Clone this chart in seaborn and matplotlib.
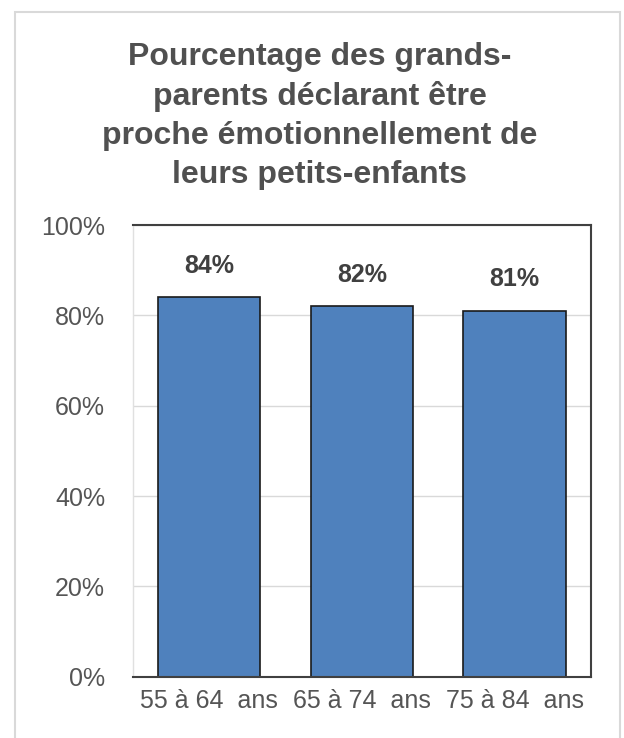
import pandas as pd
import matplotlib.pyplot as plt
import seaborn as sns
from matplotlib.patches import Rectangle

categories = ["55 à 64  ans", "65 à 74  ans", "75 à 84  ans"]
values = [84, 82, 81]
labels = ["84%", "82%", "81%"]
y_ticks = [0, 20, 40, 60, 80, 100]

df = pd.DataFrame({"age": categories, "pct": values})

sns.set_theme(style="white")
plt.rcParams["font.family"] = ["Liberation Sans", "DejaVu Sans"]

fig = plt.figure(figsize=(6.24, 7.38), dpi=100)
ax = fig.add_axes([0.213, 0.083, 0.734, 0.612])

sns.barplot(data=df, x="age", y="pct", color="#4F81BD", saturation=1,
            width=0.67, edgecolor="#1a1a1a", linewidth=1.2, ax=ax)

# valeurs au-dessus des barres
for i, (v, lab) in enumerate(zip(values, labels)):
    ax.text(i, v + 4.3, lab, ha="center", va="bottom",
            fontsize=18, fontweight="bold", color="#404040")

ax.set_ylim(0, 100)
ax.set_xlim(-0.5, 2.5)
ax.set_yticks(y_ticks)
ax.set_yticklabels([f"{t}%" for t in y_ticks], fontsize=18, color="#555555")
ax.tick_params(axis="x", labelsize=18, labelcolor="#555555", pad=9, length=0)
ax.tick_params(axis="y", pad=20, length=0)
ax.set_xlabel("")
ax.set_ylabel("")
ax.yaxis.grid(True, color="#d9d9d9", linewidth=1)
ax.set_axisbelow(True)

for side in ["top", "right", "bottom"]:
    ax.spines[side].set_color("#404040")
    ax.spines[side].set_linewidth(1.5)
ax.spines["left"].set_color("#e0e0e0")
ax.spines["left"].set_linewidth(1)

fig.suptitle("Pourcentage des grands-\nparents déclarant être\nproche émotionnellement de\nleurs petits-enfants",
             x=0.512, y=0.943, fontsize=23, fontweight="bold", color="#505050",
             linespacing=1.38, va="top")

# cadre de la figure
fig.patches.append(Rectangle((0.024, -0.01), 0.97, 0.994, transform=fig.transFigure,
                             fill=False, edgecolor="#d9d9d9", linewidth=1.5))

fig.savefig("out.png", dpi=100)
